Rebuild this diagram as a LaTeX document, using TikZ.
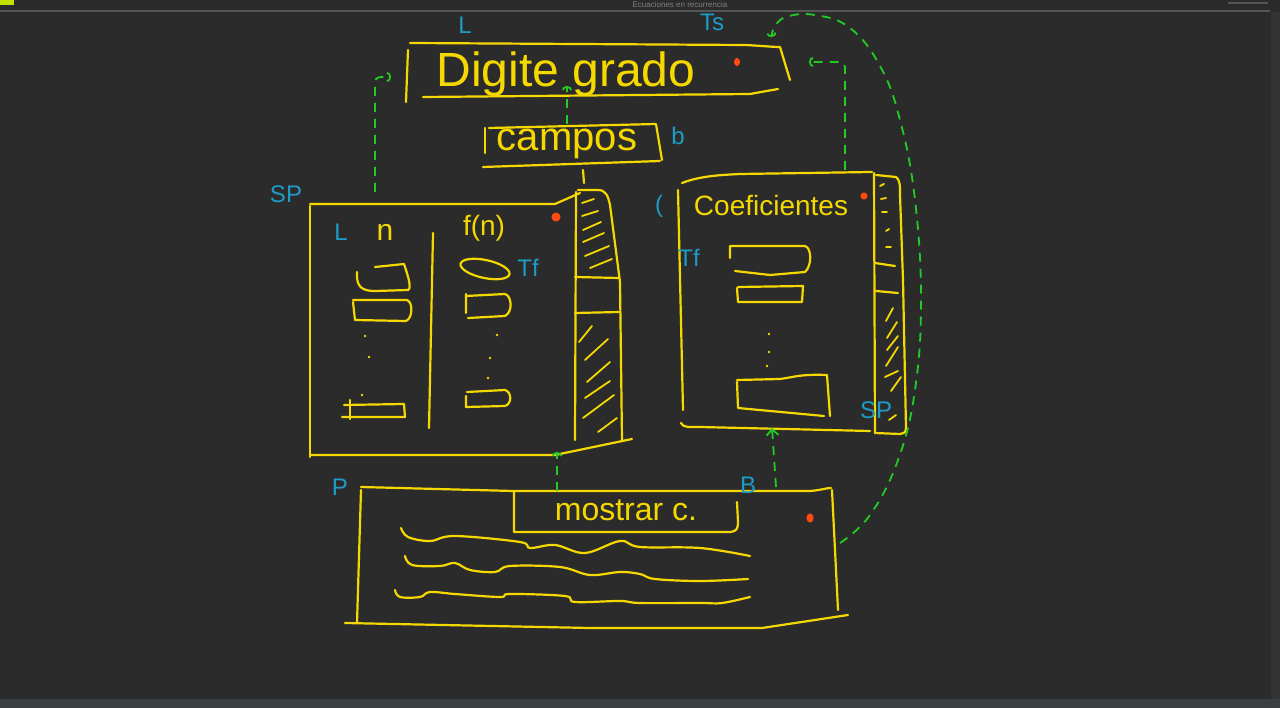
\documentclass[tikz,border=0pt]{standalone}
\usepackage{fontspec}
\setmainfont{Liberation Sans}
\usetikzlibrary{arrows.meta}
\definecolor{bg}{HTML}{2B2B2B}
\definecolor{sk}{HTML}{F5D800}
\definecolor{cy}{HTML}{1C9CC6}
\definecolor{gr}{HTML}{22CC22}
\definecolor{org}{HTML}{FF4A10}
\definecolor{chrome}{HTML}{3C3F41}
\definecolor{side}{HTML}{313335}
\definecolor{chromeline}{HTML}{555555}
\tikzset{
  yel/.style={draw=sk, line width=2.2pt, line cap=round, line join=round},
  hatch/.style={draw=sk, line width=1.8pt, line cap=round},
  hw/.style={text=sk, inner sep=0pt},
  lbl/.style={text=cy, inner sep=0pt, font=\fontsize{24}{26}\selectfont},
  conn/.style={draw=gr, line width=1.8pt, dash pattern=on 9pt off 7pt, -{Arc Barb[length=4pt,width=10pt]}},
  odot/.style={draw=org, fill=org, line width=1pt},
  tinydot/.style={fill=sk, draw=none}
}
\begin{document}
\begin{tikzpicture}[x=1pt,y=-1pt]
\useasboundingbox (0,0) rectangle (1280,708);
\fill[bg] (0,0) rectangle (1280,708);
% window chrome
\draw[chromeline, line width=2pt] (0,11) -- (1270,11);
\fill[side] (1271,12) rectangle (1280,700);
\fill[chrome] (0,699) rectangle (1280,708);
\draw[chromeline, line width=1.5pt] (1228,3) -- (1268,3);
\fill[sk!80!green] (0,0) rectangle (14,5);
\node[text=gray, font=\fontsize{8}{9}\selectfont, inner sep=0pt] (wtitle) at (680,5) {Ecuaciones en recurrencia};

% ---------- Digite grado box ----------
\draw[yel] (410,43) -- (745,45) .. controls (765,46) and (772,47) .. (780,47) -- (790,80);
\draw[yel] (408,50) -- (406,102);
\draw[yel] (423,97) -- (750,94) -- (778,89);
\node[hw, font=\fontsize{48}{50}\selectfont] (tdig) at (566,74) {Digite grado};
\draw[odot] (737,62) ellipse (2.5pt and 3.5pt);
\node[lbl] (lL1) at (465,25) {L};
\node[lbl] (lTs) at (712,22) {Ts};

% ---------- campos box ----------
\draw[yel] (485,128) -- (485,153);
\draw[yel] (489,128) -- (656,124) -- (662,160);
\draw[yel] (483,167) -- (660,161);
\node[hw, font=\fontsize{40}{42}\selectfont] (tcam) at (567,144) {campos};
\node[lbl] (lb) at (678,136) {b};

% ---------- left panel ----------
\draw[yel] (310,204) -- (555,204) -- (580,193);
\draw[yel] (310,206) -- (310,457);
\draw[yel] (310,455) -- (555,455) -- (632,439);
\draw[yel] (576,192) -- (575,440);
\draw[yel] (578,190) -- (598,190) .. controls (606,190) and (608,196) .. (610,205) -- (620,282) -- (622,440);
\draw[yel] (583,170) -- (584,183);
\draw[yel] (575,277) -- (619,278);
\draw[yel] (575,313) -- (619,312);
\draw[yel] (433,233) -- (429,428);
% hatches
\foreach \a/\b/\c/\d in {582/203/594/199, 582/216/598/211, 583/230/601/222, 583/242/604/233, 585/256/609/246, 590/268/612/259,
  579/342/592/326, 585/360/608/339, 587/382/610/362, 585/398/610/381, 583/418/614/395, 598/432/617/418}
  \draw[hatch] (\a,\b) -- (\c,\d);
\node[hw, font=\fontsize{30}{32}\selectfont] (tn) at (385,232) {n};
\node[hw, font=\fontsize{28}{30}\selectfont] (tfn) at (484,228) {f(n)};
\draw[odot] (556,217) circle (4pt);
\node[lbl] (lSP1) at (286,194) {SP};
\node[lbl] (lL2) at (341,232) {L};
\node[lbl] (lTf1) at (528,268) {Tf};
% inner boxes, n column
\draw[yel] (357,272) .. controls (356,287) and (362,291) .. (375,291) -- (408,290) .. controls (412,288) and (408,276) .. (404,264) -- (375,267);
\draw[yel] (353,300) -- (407,300) .. controls (413,302) and (413,318) .. (406,321) -- (355,320) -- (353,302);
\draw[yel] (344,405) -- (404,404) -- (405,417) -- (342,417);
\draw[yel] (350,400) -- (350,419);
\fill[tinydot] (365,336) circle (1.3pt) (369,357) circle (1.3pt) (362,395) circle (1.3pt);
% inner boxes, f(n) column
\draw[yel, rotate around={-12:(485,269)}] (485,269) ellipse (25pt and 9pt);
\draw[yel] (466,294) -- (466,313) (466,296) -- (505,294) .. controls (512,296) and (513,312) .. (505,316) -- (468,318);
\draw[yel] (467,392) -- (505,390) .. controls (512,392) and (512,404) .. (505,406) -- (466,407) -- (466,396);
\fill[tinydot] (497,335) circle (1.3pt) (490,358) circle (1.3pt) (488,378) circle (1.3pt);

% ---------- Coeficientes panel ----------
\draw[yel] (682,183) .. controls (700,176) and (720,175) .. (740,174) -- (872,172);
\draw[yel] (678,190) -- (683,410);
\draw[yel] (681,423) .. controls (683,428) and (690,427) .. (700,427) -- (870,431);
\draw[yel] (874,173) -- (875,433);
\draw[yel] (876,175) -- (896,177) .. controls (900,180) and (900,185) .. (900,195) -- (903,280) -- (906,428) .. controls (906,433) and (903,434) .. (900,434) -- (875,433);
\draw[yel] (875,263) -- (895,266);
\draw[yel] (876,291) -- (898,293);
\foreach \a/\b/\c/\d in {880/186/884/184, 881/199/886/198, 882/212/887/212, 886/231/889/229, 886/247/891/247,
  886/321/893/308, 887/338/897/322, 887/350/898/336, 886/366/898/347, 885/377/898/371, 891/391/901/377, 889/420/896/415}
  \draw[hatch] (\a,\b) -- (\c,\d);
\node[hw, font=\fontsize{28}{30}\selectfont] (tcoef) at (771,205) {Coeficientes};
\draw[odot] (864,196) circle (3pt);
\node[lbl] (lpar) at (659,206) {(};
\node[lbl] (lTf2) at (689,258) {Tf};
\node[lbl] (lSP2) at (876,410) {SP};
\draw[yel] (730,258) -- (730,246) -- (805,246) .. controls (812,248) and (812,266) .. (805,272) -- (770,275) -- (735,271);
\draw[yel] (737,288) -- (738,302) -- (802,302) -- (803,286) -- (738,287);
\draw[yel] (737,382) -- (738,408) -- (824,416) (737,380) -- (780,379) .. controls (795,377) and (800,374) .. (827,375) -- (830,416);
\fill[tinydot] (769,334) circle (1.3pt) (769,352) circle (1.3pt) (767,366) circle (1.3pt);

% ---------- bottom panel ----------
\draw[yel] (361,487) -- (513,491) -- (810,491) .. controls (822,490) and (826,488) .. (831,488);
\draw[yel] (361,490) -- (357,623);
\draw[yel] (832,490) -- (838,610);
\draw[yel] (345,623) -- (590,628) -- (762,628) -- (848,615);
\draw[yel] (514,492) -- (514,532) -- (731,532) .. controls (737,531) and (738,528) .. (738,522) -- (737,502);
\node[hw, font=\fontsize{32}{34}\selectfont] (tmos) at (626,510) {mostrar c.};
\draw[odot] (810,518) ellipse (3pt and 4pt);
\node[lbl] (lP) at (340,487) {P};
\node[lbl] (lB) at (748,485) {B};
\draw[yel] plot[smooth, tension=0.6] coordinates {(401,528) (408,537) (430,541) (455,536) (520,542) (530,548) (555,545) (585,553) (620,541) (640,547) (700,548) (750,556)};
\draw[yel] plot[smooth, tension=0.6] coordinates {(405,556) (412,565) (440,566) (455,563) (470,570) (495,572) (510,566) (560,567) (590,575) (620,572) (640,574) (655,579) (700,581) (748,579)};
\draw[yel] plot[smooth, tension=0.6] coordinates {(395,590) (400,597) (420,597) (430,592) (455,594) (500,597) (510,594) (565,596) (575,602) (620,601) (640,603) (700,603) (722,603) (750,597)};

% ---------- green dashed connectors ----------
\coordinate (lpTop) at (375,192);
\coordinate (digL) at (391,77);
\coordinate (campT) at (567,124);
\coordinate (digB) at (567,86);
\coordinate (coefT) at (845,170);
\coordinate (digR) at (809,62);
\coordinate (botR) at (840,543);
\coordinate (digTR) at (772,37);
\coordinate (botT) at (776,487);
\coordinate (coefB) at (772,428);
\coordinate (mosT) at (557,491);
\coordinate (lpB) at (557,452);
\draw[conn, rounded corners=5pt] (lpTop) |- (digL);
\draw[conn] (campT) -- (digB);
\draw[conn, rounded corners=5pt] (coefT) |- (digR);
\draw[conn] plot[smooth, tension=0.7] coordinates {(botR) (870,515) (898,460) (915,390) (921,300) (915,200) (900,120) (880,66) (850,28) (815,15) (786,17) (774,28) (digTR)};
\draw[conn, -{Straight Barb[length=6pt,width=12pt]}] (botT) -- (coefB);
\draw[conn] (mosT) -- (lpB);
\end{tikzpicture}
\end{document}
